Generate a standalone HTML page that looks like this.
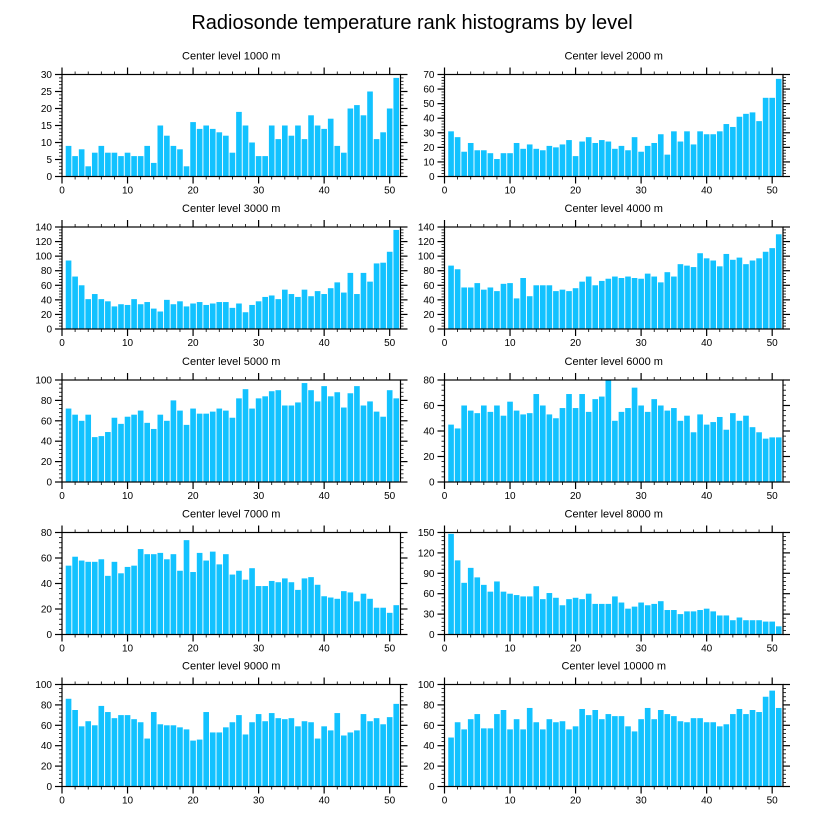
<!DOCTYPE html>
<html><head><meta charset="utf-8"><style>
html,body{margin:0;padding:0;background:#fff;}
svg{display:block;font-family:"Liberation Sans",Arial,sans-serif;}
</style></head><body>
<svg id="chart" width="824" height="824" viewBox="0 0 824 824">
<text x="412" y="29" text-anchor="middle" font-size="20" fill="#000">Radiosonde temperature rank histograms by level</text>
</svg>
<script>
const panelTitles = ["Center level 1000 m","Center level 2000 m","Center level 3000 m","Center level 4000 m","Center level 5000 m","Center level 6000 m","Center level 7000 m","Center level 8000 m","Center level 9000 m","Center level 10000 m"];
const yMaxes = [30,70,140,140,100,80,80,150,100,100];
const yMajorSteps = [5,10,20,20,20,20,20,30,20,20];
const xTickLabels = [0,10,20,30,40,50];
const counts1000 = [9,6,8,3,7,9,7,7,6,7,6,6,9,4,15,12,9,8,3,16,14,15,14,13,12,7,19,15,10,6,6,15,11,15,12,15,11,18,15,14,17,9,7,20,21,18,25,11,13,20,29];
const counts2000 = [31,27,17,23,18,18,16,12,16,16,23,19,22,19,18,21,20,22,25,14,24,27,23,25,24,19,21,18,27,17,21,23,29,15,31,24,31,22,31,29,29,31,36,34,41,43,44,38,54,54,67];
const counts3000 = [94,72,60,41,48,41,38,31,34,33,41,34,37,28,24,40,34,38,31,35,37,33,35,37,37,29,35,23,33,38,44,46,41,54,48,44,54,45,52,48,56,64,50,77,48,77,65,90,91,106,136];
const counts4000 = [87,82,57,57,63,54,57,52,62,63,42,70,45,60,60,60,52,54,52,56,65,72,60,66,69,72,70,72,70,69,76,72,64,78,72,89,87,85,104,97,94,86,103,95,98,89,94,97,106,111,130];
const counts5000 = [72,66,60,66,44,45,49,63,57,64,66,70,58,52,66,60,80,70,56,72,67,67,69,72,70,63,82,91,72,82,84,89,90,75,75,78,97,90,79,94,84,88,73,87,94,75,79,69,64,90,82];
const counts6000 = [45,42,60,56,54,60,55,60,52,63,56,53,54,69,60,53,50,58,69,58,69,55,65,67,80,48,55,58,74,60,55,65,60,56,58,48,52,39,53,45,47,51,41,54,48,52,43,39,34,35,35];
const counts7000 = [54,61,58,57,57,59,46,57,48,53,54,67,63,63,64,59,63,50,74,49,64,58,65,55,63,47,50,43,52,38,38,42,41,44,41,35,44,45,39,30,29,28,34,33,26,32,28,21,21,17,23];
const counts8000 = [148,109,76,98,84,73,63,78,63,60,58,56,56,71,52,61,54,43,52,54,52,60,45,45,45,56,47,38,41,47,43,45,49,36,36,30,34,34,36,38,34,28,28,21,25,21,21,21,19,19,12];
const counts9000 = [86,75,59,64,60,79,73,67,70,70,66,63,47,73,61,60,60,58,56,45,46,73,53,53,58,63,70,51,63,71,64,72,67,66,67,59,64,63,47,59,55,72,50,53,55,71,64,67,61,68,81];
const counts10000 = [48,63,56,66,71,57,57,71,75,56,66,56,77,63,56,66,63,64,56,59,76,70,75,66,71,69,69,59,54,66,77,66,75,71,69,64,63,67,67,63,63,59,61,71,76,71,75,73,88,94,77];
const allCounts = [counts1000,counts2000,counts3000,counts4000,counts5000,counts6000,counts7000,counts8000,counts9000,counts10000];

const NS = "http://www.w3.org/2000/svg";
const svg = document.getElementById('chart');
function mk(tag, attrs, parent){
  const e = document.createElementNS(NS, tag);
  for (const k in attrs) e.setAttribute(k, attrs[k]);
  parent.appendChild(e);
  return e;
}
const colLeft = [62, 444.5];
const plotW = 338.5;
const plotH = 102;
const rowTop = [74.5, 227, 380, 532.5, 684.5];
const X_MAX = 51.65;

for (let p = 0; p < 10; p++) {
  const col = p % 2, row = Math.floor(p / 2);
  const L = colLeft[col], T = rowTop[row], B = T + plotH, R = L + plotW;
  const yMax = yMaxes[p], step = yMajorSteps[p];
  const xs = v => L + v / X_MAX * plotW;
  const ys = v => B - v / yMax * plotH;
  const g = mk('g', {}, svg);
  
  

  const t = mk('text', {x: (L + R) / 2, y: T - 15, 'text-anchor': 'middle', 'font-size': 11}, g);
  t.textContent = panelTitles[p];
  
  

  const data = allCounts[p];
  const bw = 0.86 / X_MAX * plotW;
  data.forEach((v, i) => {
    const r = mk('rect', {x: xs(i + 1) - bw / 2, y: ys(v), width: bw, height: B - ys(v), fill: '#12c2ff'}, g);
    
    
  });

  const frame = mk('rect', {x: L, y: T, width: plotW, height: plotH, fill: 'none', stroke: '#000', 'stroke-width': 1.2}, g);
  
  

  // x ticks
  for (let v = 0; v <= 51; v += 2) {
    const major = v % 10 === 0;
    const len = major ? 7 : 3;
    const x = xs(v);
    mk('line', {x1: x, x2: x, y1: B, y2: B + len, stroke: '#000', 'stroke-width': major ? 1.2 : 0.8}, g);
    mk('line', {x1: x, x2: x, y1: T, y2: T - len, stroke: '#000', 'stroke-width': major ? 1.2 : 0.8}, g);
  }
  xTickLabels.forEach(v => {
    const tx = mk('text', {x: xs(v), y: B + 17, 'text-anchor': 'middle', 'font-size': 10}, g);
    tx.textContent = v;
    
    
  });
  // y ticks
  const minor = step / 5;
  for (let k = 0; k * minor <= yMax + 1e-9; k++) {
    const v = k * minor;
    const major = k % 5 === 0;
    const len = major ? 7 : 3;
    const y = ys(v);
    mk('line', {x1: L, x2: L - len, y1: y, y2: y, stroke: '#000', 'stroke-width': major ? 1.2 : 0.8}, g);
    mk('line', {x1: R, x2: R + len, y1: y, y2: y, stroke: '#000', 'stroke-width': major ? 1.2 : 0.8}, g);
    if (major) {
      const ty = mk('text', {x: L - 10, y: y + 3.5, 'text-anchor': 'end', 'font-size': 10}, g);
      ty.textContent = v;
      
      
    }
  }
}
</script>
</body></html>
